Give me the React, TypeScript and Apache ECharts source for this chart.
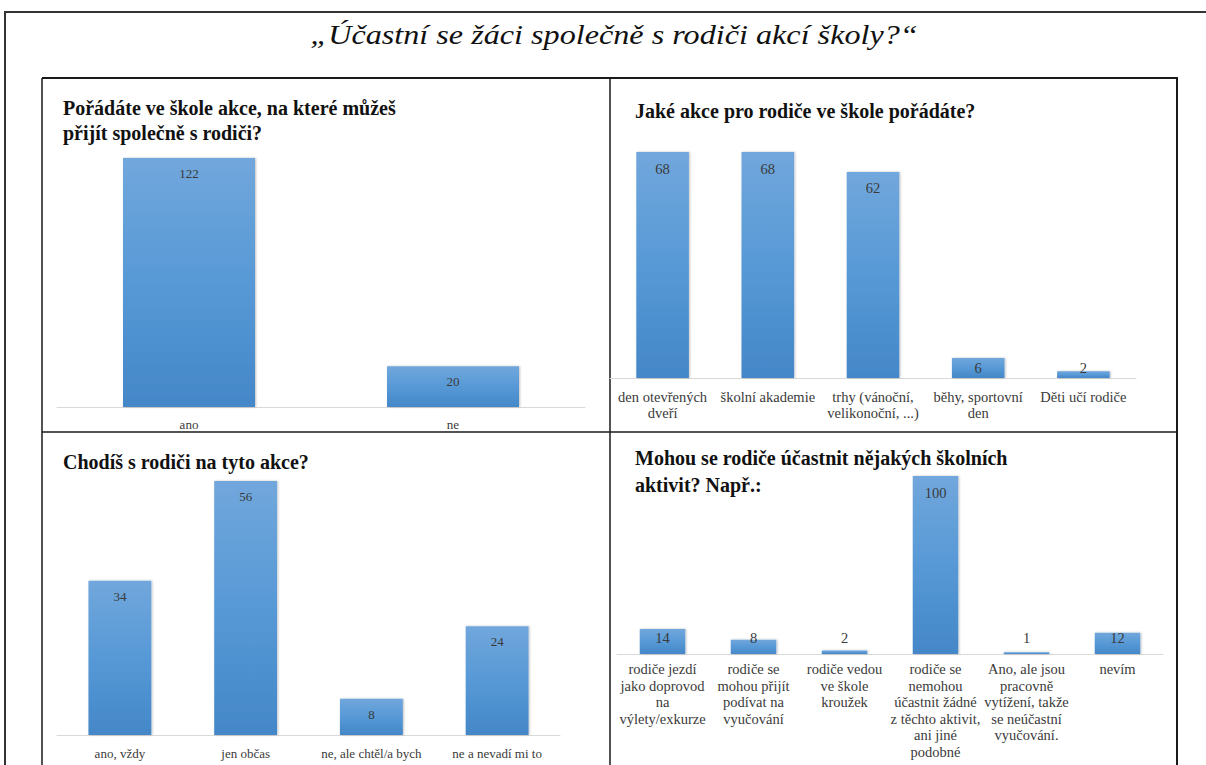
import React, { useEffect, useRef } from "react";
import * as echarts from "echarts";

const mainTitle = "„Účastní se žáci společně s rodiči akcí školy?“";

const p1Title = "Pořádáte ve škole akce, na které můžeš\npřijít společně s rodiči?";
const p1Categories = ["ano", "ne"];
const p1Values = [122, 20];

const p2Title = "Jaké akce pro rodiče ve škole pořádáte?";
const p2Categories = [
  "den otevřených\ndveří",
  "školní akademie",
  "trhy (vánoční,\nvelikonoční, ...)",
  "běhy, sportovní\nden",
  "Děti učí rodiče",
];
const p2Values = [68, 68, 62, 6, 2];

const p3Title = "Chodíš s rodiči na tyto akce?";
const p3Categories = ["ano, vždy", "jen občas", "ne, ale chtěl/a bych", "ne a nevadí mi to"];
const p3Values = [34, 56, 8, 24];

const p4Title = "Mohou se rodiče účastnit nějakých školních\naktivit? Např.:";
const p4Categories = [
  "rodiče jezdí\njako doprovod\nna\nvýlety/exkurze",
  "rodiče se\nmohou přijít\npodívat na\nvyučování",
  "rodiče vedou\nve škole\nkroužek",
  "rodiče se\nnemohou\núčastnit žádné\nz těchto aktivit,\nani jiné\npodobné",
  "Ano, ale jsou\npracovně\nvytížení, takže\nse neúčastní\nvyučování.",
  "nevím",
];
const p4Values = [14, 8, 2, 100, 1, 12];

const SERIF = "Liberation Serif";
const TEXT_GRAY = "#3a3a3a";

type Panel = {
  categories: string[];
  values: number[];
  grid: { left: number; top: number; width: number; height: number };
  labelMargin: number;
  lineHeight: number;
  smallDist: number;
  fontSize: number;
};

const panels: Panel[] = [
  { categories: p1Categories, values: p1Values, grid: { left: 57, top: 158, width: 528, height: 249 }, labelMargin: 9, lineHeight: 16, smallDist: 4, fontSize: 13 },
  { categories: p2Categories, values: p2Values, grid: { left: 610, top: 152, width: 526, height: 226 }, labelMargin: 11, lineHeight: 16, smallDist: 3, fontSize: 14.5 },
  { categories: p3Categories, values: p3Values, grid: { left: 57, top: 481, width: 503, height: 254 }, labelMargin: 10, lineHeight: 16, smallDist: 4, fontSize: 13 },
  { categories: p4Categories, values: p4Values, grid: { left: 617, top: 476, width: 546, height: 178 }, labelMargin: 7, lineHeight: 16.5, smallDist: 9, fontSize: 14.5 },
];

export default function App() {
  const ref = useRef<HTMLDivElement>(null);

  useEffect(() => {
    if (!ref.current) return;
    const chart = echarts.init(ref.current, null, { renderer: "svg" });

    const barColor = new echarts.graphic.LinearGradient(0, 0, 0, 1, [
      { offset: 0, color: "#71A7DC" },
      { offset: 0.5, color: "#5799D6" },
      { offset: 1, color: "#4487C8" },
    ]);

    const grids = panels.map((p) => ({ ...p.grid }));
    const xAxes = panels.map((p, i) => ({
      type: "category",
      gridIndex: i,
      data: p.categories,
      axisTick: { show: false },
      axisLine: { lineStyle: { color: "#D9D9D9", width: 1 } },
      axisLabel: {
        interval: 0,
        margin: p.labelMargin,
        fontFamily: SERIF,
        fontSize: p.fontSize,
        color: TEXT_GRAY,
        lineHeight: p.lineHeight,
        align: "center",
      },
    }));
    const yAxes = panels.map((p, i) => ({
      type: "value",
      gridIndex: i,
      min: 0,
      max: Math.max(...p.values),
      show: false,
      splitLine: { show: false },
    }));
    const series = panels.map((p, i) => {
      const max = Math.max(...p.values);
      return {
        type: "bar",
        xAxisIndex: i,
        yAxisIndex: i,
        barWidth: "50%",
        itemStyle: {
          color: barColor,
          shadowColor: "rgba(0,0,0,0.25)",
          shadowBlur: 2,
          shadowOffsetX: 1,
        },
        data: p.values.map((v) => {
          const px = (p.grid.height * v) / max;
          const small = px < 30;
          return {
            value: v,
            label: {
              show: true,
              position: small ? "insideBottom" : "insideTop",
              distance: small ? p.smallDist : 9,
              fontFamily: SERIF,
              fontSize: p.fontSize,
              color: TEXT_GRAY,
            },
          };
        }),
      };
    });

    const lineStyle = { stroke: "#1a1a1a", lineWidth: 1.5 };
    const titleText = (x: number, y: number, text: string, lh: number) => ({
      type: "text",
      x,
      y,
      style: {
        text,
        fontFamily: SERIF,
        fontSize: 20,
        fontWeight: "bold",
        fill: "#111",
        lineHeight: lh,
      },
    });
    const graphic: any[] = [
      { type: "line", shape: { x1: 4, y1: 12, x2: 1206, y2: 12 }, style: { stroke: "#333", lineWidth: 2 } },
      { type: "line", shape: { x1: 5, y1: 12, x2: 5, y2: 765 }, style: { stroke: "#333", lineWidth: 2 } },
      { type: "line", shape: { x1: 42, y1: 78, x2: 1178, y2: 78 }, style: { stroke: "#1a1a1a", lineWidth: 2 } },
      { type: "line", shape: { x1: 42, y1: 78, x2: 42, y2: 765 }, style: lineStyle },
      { type: "line", shape: { x1: 1177, y1: 78, x2: 1177, y2: 765 }, style: { stroke: "#1a1a1a", lineWidth: 2 } },
      { type: "line", shape: { x1: 610, y1: 78, x2: 610, y2: 765 }, style: lineStyle },
      { type: "line", shape: { x1: 42, y1: 432, x2: 1178, y2: 432 }, style: lineStyle },
      {
        type: "text",
        x: 614,
        y: 35,
        scaleX: 1.15,
        style: {
          text: mainTitle,
          fontFamily: SERIF,
          fontStyle: "italic",
          fontSize: 28,
          fill: "#111",
          textAlign: "center",
          textVerticalAlign: "middle",
        },
      },
      titleText(63, 95, p1Title, 25),
      titleText(635, 98, p2Title, 25),
      titleText(63, 449, p3Title, 25),
      titleText(635, 444, p4Title, 27),
    ];

    chart.setOption({
      animation: false,
      backgroundColor: "#ffffff",
      grid: grids,
      xAxis: xAxes,
      yAxis: yAxes,
      series,
      graphic,
    });

    return () => chart.dispose();
  }, []);

  return (
    <div
      ref={ref}
      style={{ position: "fixed", left: 0, top: 0, width: 1206, height: 765, background: "#fff" }}
    />
  );
}
